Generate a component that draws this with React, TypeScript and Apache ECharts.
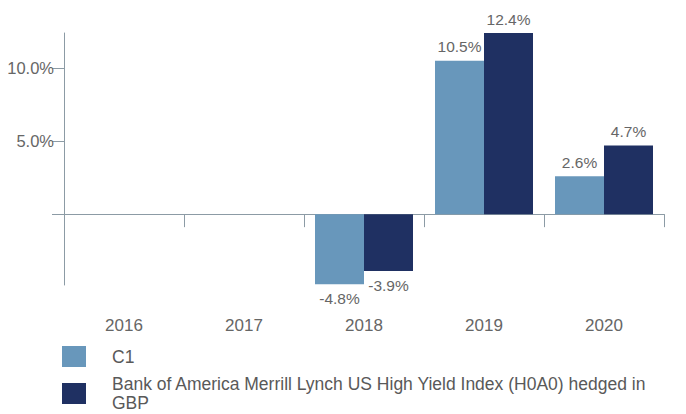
import React, { useEffect, useRef } from "react";
import * as echarts from "echarts";

const categories = ["2016", "2017", "2018", "2019", "2020"];
const c1Values: (number | null)[] = [null, null, -4.8, 10.5, 2.6];
const indexValues: (number | null)[] = [null, null, -3.9, 12.4, 4.7];
const seriesNames = [
  "C1",
  "Bank of America Merrill Lynch US High Yield Index (H0A0) hedged in GBP",
];
const yTickValues = [0, 5, 10];
const yLabelValues = [5, 10];

const FONT = "'Liberation Sans', Arial, sans-serif";
const LIGHT = "#6897bb";
const DARK = "#1f3062";
const AXIS = "#8c9ba5";
const TEXT = "#666666";

function toData(vals: (number | null)[]) {
  return vals.map((v) =>
    v === null
      ? null
      : {
          value: v,
          label: { position: v < 0 ? "bottom" : "top" },
        }
  );
}

export default function App() {
  const ref = useRef<HTMLDivElement>(null);
  useEffect(() => {
    if (!ref.current) return;
    const chart = echarts.init(ref.current, undefined, { renderer: "svg" });
    const labelCfg = {
      show: true,
      distance: 6,
      color: TEXT,
      fontSize: 15.5,
      fontFamily: FONT,
      formatter: (p: any) => p.value.toFixed(1) + "%",
    };
    const legendText = {
      color: "#595959",
      fontSize: 17.5,
      fontFamily: FONT,
    };
    chart.setOption({
      animation: false,
      grid: { left: 64, right: 22, top: 33, bottom: 129, containLabel: false },
      legend: [
        {
          data: [seriesNames[0]],
          left: 62,
          top: 346,
          padding: 0,
          icon: "rect",
          itemWidth: 24,
          itemHeight: 21,
          selectedMode: false,
          textStyle: { ...legendText, padding: [0, 0, 0, 21] },
        },
        {
          data: [seriesNames[1]],
          left: 62,
          top: 374,
          padding: 0,
          icon: "rect",
          itemWidth: 24,
          itemHeight: 21,
          selectedMode: false,
          textStyle: {
            ...legendText,
            lineHeight: 18.5,
            width: 550,
            overflow: "break",
            padding: [2, 0, 0, 21],
          },
        },
      ],
      xAxis: [
        {
          type: "category",
          data: categories,
          position: "bottom",
          axisLine: { show: false, onZero: false },
          axisTick: { show: false },
          axisLabel: {
            color: TEXT,
            fontSize: 17,
            fontFamily: FONT,
            margin: 32,
          },
        },
        {
          type: "category",
          data: categories,
          position: "bottom",
          axisLine: { show: true, onZero: true, lineStyle: { color: AXIS, width: 1 } },
          axisTick: {
            show: true,
            length: 13,
            inside: false,
            lineStyle: { color: AXIS },
          },
          axisLabel: { show: false },
        },
      ],
      yAxis: {
        type: "value",
        min: -4.85,
        max: 12.4,
        splitLine: { show: false },
        axisLine: { show: true, lineStyle: { color: AXIS, width: 1 } },
        axisTick: {
          show: true,
          length: 12,
          lineStyle: { color: AXIS },
          customValues: yTickValues,
        },
        axisLabel: {
          color: TEXT,
          fontSize: 16.5,
          fontFamily: FONT,
          margin: 10,
          customValues: yLabelValues,
          formatter: (v: number) => v.toFixed(1) + "%",
        },
      },
      series: [
        {
          name: seriesNames[0],
          type: "bar",
          xAxisIndex: 0,
          data: toData(c1Values),
          barWidth: 49,
          barGap: "0%",
          itemStyle: { color: LIGHT },
          label: labelCfg,
        },
        {
          name: seriesNames[1],
          type: "bar",
          xAxisIndex: 0,
          data: toData(indexValues),
          barWidth: 49,
          barGap: "0%",
          itemStyle: { color: DARK },
          label: labelCfg,
        },
      ],
    });
    return () => chart.dispose();
  }, []);
  return <div ref={ref} style={{ width: 686, height: 414, position: "absolute", left: 0, top: 0 }} />;
}
